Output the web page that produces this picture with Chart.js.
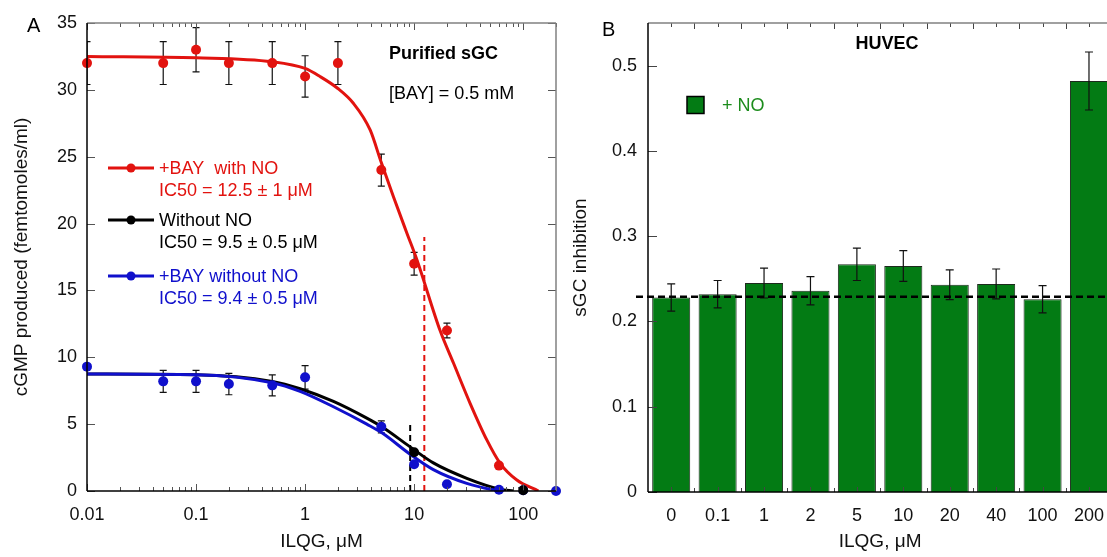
<!DOCTYPE html>
<html>
<head>
<meta charset="utf-8">
<script src="https://cdn.jsdelivr.net/npm/chart.js@4/dist/chart.umd.min.js"></script>
<style>
  html, body { margin: 0; padding: 0; background: #fff; overflow: hidden; width: 1107px; height: 557px; }
  #panelA { position: absolute; left: 0; top: 0; }
  #panelB { position: absolute; left: 560px; top: 0; }
</style>
</head>
<body>
<canvas id="panelA" width="575" height="557"></canvas>
<canvas id="panelB" width="557" height="557"></canvas>
<script>
// ---- panel A : purified sGC ----
const redX   = [0.01, 0.05, 0.1, 0.2, 0.5, 1, 2, 5, 10, 20, 60];
const redY   = [32, 32, 33, 32, 32, 31, 32, 24, 17, 12, 1.9];
const redErr = [1.6, 1.6, 1.65, 1.6, 1.6, 1.55, 1.6, 1.2, 0.85, 0.55, 0];

const blueX   = [0.01, 0.05, 0.1, 0.2, 0.5, 1, 5, 10, 20, 60, 100, 200];
const blueY   = [9.3, 8.2, 8.2, 8.0, 7.9, 8.5, 4.8, 2.0, 0.5, 0.1, 0.05, 0];
const blueErr = [0, 0.82, 0.82, 0.8, 0.78, 0.88, 0.45, 0, 0, 0, 0, 0];

const blackX = [10, 100];
const blackY = [2.9, 0.05];

// fitted curves
const redFitX = [0.01, 0.1, 0.5, 1, 1.37, 2, 2.77, 3.95, 4.98, 6.46, 8.57, 10.6, 17.3, 23, 32.6, 46.4, 61.5, 87.5, 138];
const redFitY = [32.5, 32.4, 32.1, 31.6, 31.0, 30.1, 29.0, 27.0, 24.6, 22.0, 19.3, 17.3, 12.0, 9.55, 6.56, 3.82, 2.07, 0.82, 0];
const blackFitX = [0.01, 0.1, 0.5, 0.9, 1.82, 3.68, 5.06, 9.18, 15, 30.4, 61.5, 81.5];
const blackFitY = [8.75, 8.7, 8.2, 7.65, 6.7, 5.45, 4.8, 3.3, 2.1, 0.95, 0.13, 0];
const blueFitX = [0.01, 0.1, 0.5, 0.9, 1.82, 3.68, 5.06, 9.18, 15, 30.4, 56, 62];
const blueFitY = [8.75, 8.7, 8.1, 7.45, 6.3, 5.0, 4.35, 2.75, 1.6, 0.57, 0.05, 0];

const redIc50X = [12.4, 12.4],  redIc50Y = [0, 19];
const blackIc50X = [9.2, 9.2],  blackIc50Y = [0, 5.1];

const xTickValsA = [0.01, 0.1, 1, 10, 100];
const yTickValsA = [0, 5, 10, 15, 20, 25, 30, 35];

// ---- panel B : HUVEC ----
const huvecCats = ['0', '0.1', '1', '2', '5', '10', '20', '40', '100', '200'];
const huvecVals = [0.228, 0.232, 0.245, 0.236, 0.267, 0.265, 0.243, 0.244, 0.226, 0.482];
const huvecErr  = [0.016, 0.016, 0.0175, 0.0165, 0.019, 0.018, 0.0175, 0.0175, 0.016, 0.034];
const huvecBaseline = 0.229;
const yTickValsB = [0, 0.1, 0.2, 0.3, 0.4, 0.5];

const RED = '#e2130f', BLACK = '#000000', BLUE = '#1010cc', GREEN = '#037b14';
const FONT = '"Liberation Sans", Arial, sans-serif';

const pts = (xs, ys) => xs.map((x, i) => ({ x, y: ys[i] }));

function errorBars(ctx, xs, ys, errs, xScale, yScale, cap) {
  xs.forEach((xv, i) => {
    if (!errs[i]) return;
    const px = xScale.getPixelForValue(xv);
    const t = yScale.getPixelForValue(ys[i] + errs[i]);
    const b = yScale.getPixelForValue(ys[i] - errs[i]);
    ctx.beginPath();
    ctx.moveTo(px, t); ctx.lineTo(px, b);
    ctx.moveTo(px - cap, t); ctx.lineTo(px + cap, t);
    ctx.moveTo(px - cap, b); ctx.lineTo(px + cap, b);
    ctx.stroke();
  });
}

function line(ctx, x1, y1, x2, y2) {
  ctx.beginPath(); ctx.moveTo(x1, y1); ctx.lineTo(x2, y2); ctx.stroke();
}

const extrasA = {
  id: 'extrasA',
  beforeDatasetsDraw(chart) {
    const { ctx, chartArea: a, scales: { x, y } } = chart;
    ctx.save();
    ctx.beginPath(); ctx.rect(a.left, a.top - 10, a.right - a.left, a.bottom - a.top + 20); ctx.clip();
    ctx.strokeStyle = '#111'; ctx.lineWidth = 1.2;
    errorBars(ctx, redX, redY, redErr, x, y, 3.5);
    errorBars(ctx, blueX, blueY, blueErr, x, y, 3.5);
    ctx.restore();
  },
  afterDatasetsDraw(chart) {
    const { ctx, chartArea: a, scales: { x, y } } = chart;
    ctx.save();
    ctx.lineWidth = 1;
    ctx.strokeStyle = '#555';
    for (let d = -2; d <= 2; d++) {
      for (let m = 1; m <= 9; m++) {
        const v = m * Math.pow(10, d);
        if (v < 0.01 || v > 200) continue;
        const px = Math.round(x.getPixelForValue(v)) + 0.5;
        const len = m === 1 ? 7 : 4;
        line(ctx, px, a.bottom, px, a.bottom - len);
        line(ctx, px, a.top, px, a.top + len);
      }
    }
    yTickValsA.forEach(v => {
      const py = Math.round(y.getPixelForValue(v)) + 0.5;
      line(ctx, a.left, py, a.left + 8, py);
      line(ctx, a.right, py, a.right - 8, py);
    });
    ctx.lineWidth = 1.5;
    ctx.strokeStyle = '#808080';
    line(ctx, a.left, a.top, a.right, a.top);
    line(ctx, a.right, a.top, a.right, a.bottom);
    ctx.strokeStyle = '#000';
    line(ctx, a.left, a.top, a.left, a.bottom);
    line(ctx, a.left, a.bottom, a.right, a.bottom);
    ctx.restore();
  },
  afterDraw(chart) {
    const ctx = chart.ctx;
    ctx.save();
    ctx.textBaseline = 'middle';
    ctx.fillStyle = '#000';
    ctx.font = '20px ' + FONT;
    ctx.fillText('A', 27, 26);
    ctx.font = 'bold 18px ' + FONT;
    ctx.fillText('Purified sGC', 389, 54);
    ctx.font = '18px ' + FONT;
    ctx.fillText('[BAY] = 0.5 mM', 389, 94);

    const legend = [
      { color: RED,   y: 168, lines: ['+BAY  with NO', 'IC50 = 12.5 \u00b1 1 \u03bcM'] },
      { color: BLACK, y: 220, lines: ['Without NO', 'IC50 = 9.5 \u00b1 0.5 \u03bcM'] },
      { color: BLUE,  y: 276, lines: ['+BAY without NO', 'IC50 = 9.4 \u00b1 0.5 \u03bcM'] }
    ];
    legend.forEach(item => {
      ctx.strokeStyle = item.color;
      ctx.fillStyle = item.color;
      ctx.lineWidth = 3;
      line(ctx, 108, item.y, 154, item.y);
      ctx.beginPath(); ctx.arc(131, item.y, 4.5, 0, Math.PI * 2); ctx.fill();
      ctx.fillText(item.lines[0], 159, item.y + 1);
      ctx.fillText(item.lines[1], 159, item.y + 23);
    });
    ctx.restore();
  }
};

const curve = (label, xs, ys, color, order) => ({
  type: 'line', label, data: pts(xs, ys), borderColor: color, borderWidth: 3,
  pointRadius: 0, cubicInterpolationMode: 'monotone', order
});
const dots = (label, xs, ys, color, order) => ({
  type: 'scatter', label, data: pts(xs, ys), backgroundColor: color, borderColor: color,
  pointRadius: 5, borderWidth: 0, clip: false, order
});
const dashed = (label, xs, ys, color, order) => ({
  type: 'line', label, data: pts(xs, ys), borderColor: color, borderWidth: 2,
  borderDash: [6, 4], pointRadius: 0, order
});

new Chart(document.getElementById('panelA'), {
  data: {
    datasets: [
      dots('+BAY with NO', redX, redY, RED, 1),
      dots('+BAY without NO', blueX, blueY, BLUE, 2),
      dots('Without NO', blackX, blackY, BLACK, 1),
      curve('+BAY with NO fit', redFitX, redFitY, RED, 5),
      curve('+BAY without NO fit', blueFitX, blueFitY, BLUE, 6),
      curve('Without NO fit', blackFitX, blackFitY, BLACK, 7),
      dashed('IC50 red', redIc50X, redIc50Y, RED, 8),
      dashed('IC50 black', blackIc50X, blackIc50Y, BLACK, 8)
    ]
  },
  options: {
    responsive: false,
    animation: false,
    layout: { padding: { top: 23, right: 19, left: 0, bottom: 0 } },
    plugins: { legend: { display: false }, tooltip: { enabled: false } },
    scales: {
      x: {
        type: 'logarithmic', min: 0.01, max: 200,
        grid: { display: false, drawTicks: false }, border: { display: false },
        afterBuildTicks: s => { s.ticks = xTickValsA.map(v => ({ value: v })); },
        afterFit: s => { s.height = 66; },
        ticks: { color: '#111', padding: 13, font: { family: FONT, size: 18 }, callback: v => String(v), maxRotation: 0 },
        title: { display: true, text: 'ILQG, \u03bcM', color: '#111', font: { family: FONT, size: 19 }, padding: { bottom: 4 } }
      },
      y: {
        min: 0, max: 35,
        grid: { display: false, drawTicks: false }, border: { display: false },
        afterBuildTicks: s => { s.ticks = yTickValsA.map(v => ({ value: v })); },
        afterFit: s => { s.width = 87; },
        ticks: { color: '#111', padding: 10, font: { family: FONT, size: 18 } },
        title: { display: true, text: 'cGMP produced (femtomoles/ml)', color: '#111', font: { family: FONT, size: 19 }, padding: { top: 10 } }
      }
    }
  },
  plugins: [extrasA]
});

const extrasB = {
  id: 'extrasB',
  afterDatasetsDraw(chart) {
    const { ctx, chartArea: a, scales: { x, y } } = chart;
    ctx.save();
    ctx.strokeStyle = '#111'; ctx.lineWidth = 1.2;
    errorBars(ctx, huvecCats.map((c, i) => i), huvecVals, huvecErr, x, y, 4);
    // baseline
    ctx.strokeStyle = '#000'; ctx.lineWidth = 2.5; ctx.setLineDash([7, 4]);
    const by = y.getPixelForValue(huvecBaseline);
    line(ctx, a.left - 12, by, chart.width, by);
    ctx.setLineDash([]);
    // ticks
    ctx.lineWidth = 1; ctx.strokeStyle = '#444';
    const step = x.getPixelForValue(1) - x.getPixelForValue(0);
    huvecCats.forEach((c, i) => {
      const px = Math.round(x.getPixelForValue(i)) + 0.5;
      line(ctx, px, a.bottom, px, a.bottom - 5);
      line(ctx, px, a.top, px, a.top + 4);
      const bx = Math.round(x.getPixelForValue(i) + step / 2) + 0.5;
      line(ctx, bx, a.bottom, bx, a.bottom - 4);
      line(ctx, bx, a.top, bx, a.top + 6);
    });
    yTickValsB.forEach(v => {
      const py = Math.round(y.getPixelForValue(v)) + 0.5;
      line(ctx, a.left, py, a.left + 9, py);
    });
    ctx.lineWidth = 1.5;
    ctx.strokeStyle = '#808080';
    line(ctx, a.left, a.top, a.right, a.top);
    ctx.strokeStyle = '#000';
    line(ctx, a.left, a.top, a.left, a.bottom);
    line(ctx, a.left, a.bottom, a.right, a.bottom);
    ctx.restore();
  },
  afterDraw(chart) {
    const ctx = chart.ctx;
    ctx.save();
    ctx.textBaseline = 'middle';
    ctx.fillStyle = '#000';
    ctx.font = '20px ' + FONT;
    ctx.fillText('B', 42, 30);
    ctx.font = 'bold 18px ' + FONT;
    ctx.textAlign = 'center';
    ctx.fillText('HUVEC', 327, 44);
    ctx.textAlign = 'left';
    ctx.fillStyle = GREEN;
    ctx.fillRect(127, 96.5, 17, 17);
    ctx.strokeStyle = '#000'; ctx.lineWidth = 1.5;
    ctx.strokeRect(127, 96.5, 17, 17);
    ctx.fillStyle = '#1c8c1c';
    ctx.font = '18px ' + FONT;
    ctx.fillText('+ NO', 162, 106);
    ctx.restore();
  }
};

new Chart(document.getElementById('panelB'), {
  type: 'bar',
  data: {
    labels: huvecCats,
    datasets: [{
      label: '+ NO', data: huvecVals, backgroundColor: GREEN, borderColor: '#1d2a1d',
      borderWidth: 1, categoryPercentage: 1, barPercentage: 0.82
    }]
  },
  options: {
    responsive: false,
    animation: false,
    layout: { padding: { top: 23, right: 0, left: 0, bottom: 0 } },
    plugins: { legend: { display: false }, tooltip: { enabled: false } },
    scales: {
      x: {
        grid: { display: false, drawTicks: false }, border: { display: false },
        afterFit: s => { s.height = 65; },
        ticks: { color: '#111', padding: 13, font: { family: FONT, size: 18 }, maxRotation: 0 },
        title: { display: true, text: 'ILQG, \u03bcM', color: '#111', font: { family: FONT, size: 19 }, padding: { bottom: 4 } }
      },
      y: {
        min: 0, max: 0.55,
        grid: { display: false, drawTicks: false }, border: { display: false },
        afterBuildTicks: s => { s.ticks = yTickValsB.map(v => ({ value: v })); },
        afterFit: s => { s.width = 88; },
        ticks: { color: '#111', padding: 11, font: { family: FONT, size: 18 }, callback: v => String(+v.toFixed(1)) },
        title: { display: true, text: 'sGC inhibition', color: '#111', font: { family: FONT, size: 19 }, padding: { top: 9 } }
      }
    }
  },
  plugins: [extrasB]
});
</script>
</body>
</html>
